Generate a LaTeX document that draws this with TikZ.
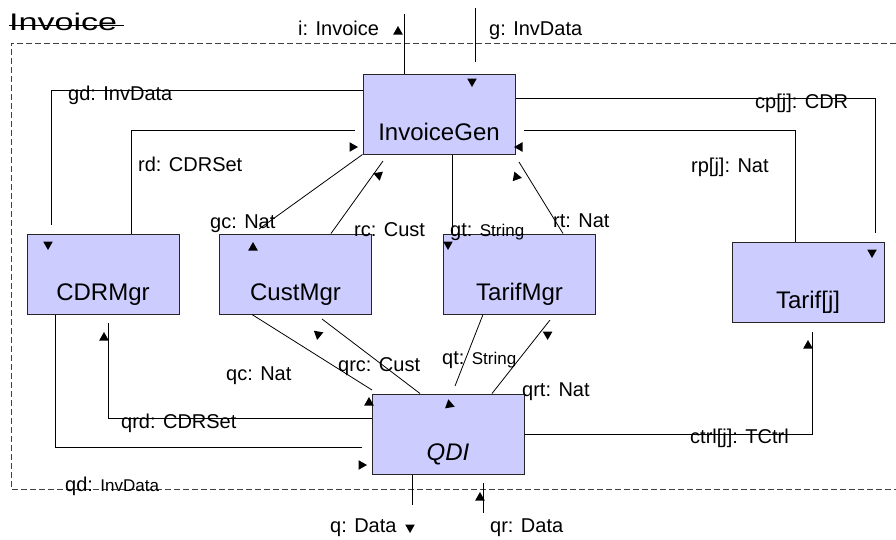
\documentclass[tikz,border=0pt]{standalone}
\usepackage{fontspec}
\setmainfont{Liberation Sans}
\usetikzlibrary{positioning, calc}
\definecolor{modblue}{HTML}{CCCCFF}
\tikzset{
  arrowmark/.pic={\fill (5pt,0) -- (-3.5pt,4.8pt) -- (-3.5pt,-4.8pt) -- cycle;}
}

\begin{document}
\begin{tikzpicture}[
      x=1pt, y=-1pt,
      module/.style={draw=black!85, line width=1pt, fill=modblue,
                     minimum width=152pt, minimum height=80pt, inner sep=0pt,
                     text height=52pt, text depth=0pt,
                     font=\fontsize{24}{28}\selectfont},
      portlbl/.style={inner sep=0pt, anchor=base west,
                      font=\fontsize{20}{24}\selectfont},
      wire/.style={line width=0.8pt},
    ]
    \useasboundingbox (0,0) rectangle (896,539);

    % frame
    \draw[black!75, line width=0.8pt, dash pattern=on 6pt off 3pt]
      (896,43) -- (11,43) -- (11,489) -- (896,489);
    \node[inner sep=0pt, anchor=base west, font=\fontsize{24}{28}\selectfont]
      (title) at (9,30) {\scalebox{1.42}[1]{Invoice}};
    \draw[line width=1pt] ([yshift=5pt]title.base west) -- ([yshift=5pt,xshift=7pt]title.base east);

    % modules
    \node[module] (inv)   at (439,114)   {InvoiceGen};
    \node[module] (cdr)   at (103,274)   {CDRMgr};
    \node[module] (cust)  at (295.5,274) {CustMgr};
    \node[module] (tarm)  at (519.5,274) {TarifMgr};
    \node[module] (tarif) at (808,282)   {Tarif[j]};
    \node[module, font=\fontsize{24}{28}\selectfont\itshape] (qdi) at (448,434) {QDI};

    % free ends
    \coordinate (i-e)    at (404,14);
    \coordinate (g-s)    at (475,8);
    \coordinate (g-e)    at (475,62);
    \coordinate (gd-e)   at (51,225);
    \coordinate (rd-e)   at (355,130);
    \coordinate (cp-e)   at (875,233);
    \coordinate (rp-e)   at (524,130);
    \coordinate (gc-e)   at (259,229);
    \coordinate (rc-e)   at (383,161);
    \coordinate (rt-e)   at (519,162);
    \coordinate (qc-e)   at (372,390);
    \coordinate (qrc-e)  at (322,319);
    \coordinate (qt-e)   at (455,386);
    \coordinate (qrt-e)  at (550,320);
    \coordinate (qrd-e)  at (108,323);
    \coordinate (qd-e)   at (362,447);
    \coordinate (ctrl-e) at (812,332);
    \coordinate (q-e)    at (412,505);
    \coordinate (qr-s)   at (483,483);
    \coordinate (qr-e)   at (483,513);

    % wires
    \draw[wire] (inv.north -| 404,0) -- (i-e);
    \draw[wire] (g-s) -- (g-e);
    \draw[wire] (inv.west |- 0,90) -| (gd-e);
    \draw[wire] (cdr.north -| 131,0) |- (rd-e);
    \draw[wire] (inv.east |- 0,98) -| (cp-e);
    \draw[wire] (tarif.north -| 795,0) |- (rp-e);
    \draw[wire] (inv.south west) -- (gc-e);
    \draw[wire] (cust.north -| 331,0) -- (rc-e);
    \draw[wire] (inv.south -| 452,0) -- (tarm.north -| 452,0);
    \draw[wire] (tarm.north -| 563,0) -- (rt-e);
    \draw[wire] (cust.south -| 252,0) -- (qc-e);
    \draw[wire] (qdi.north -| 420,0) -- (qrc-e);
    \draw[wire] (tarm.south -| 483,0) -- (qt-e);
    \draw[wire] (qdi.north -| 492,0) -- (qrt-e);
    \draw[wire] (qdi.west |- 0,418) -| (qrd-e);
    \draw[wire] (cdr.south -| 55,0) |- (qd-e);
    \draw[wire] (qdi.east) -| (ctrl-e);
    \draw[wire] (qdi.south -| 412,0) -- (q-e);
    \draw[wire] (qr-s) -- (qr-e);

    % arrow marks
    \pic[rotate=90]  at (398,31)  {arrowmark};
    \pic[rotate=-90] at (472,82)  {arrowmark};
    \pic[rotate=-90] at (48,245)  {arrowmark};
    \pic             at (353,147) {arrowmark};
    \pic[rotate=-90] at (872,253) {arrowmark};
    \pic[rotate=180] at (519,147) {arrowmark};
    \pic[rotate=90]  at (253,247) {arrowmark};
    \pic[rotate=160] at (378,175) {arrowmark};
    \pic[rotate=-90] at (448,245) {arrowmark};
    \pic[rotate=-10] at (517,177) {arrowmark};
    \pic[rotate=90]  at (369,402) {arrowmark};
    \pic[rotate=-100] at (318,335) {arrowmark};
    \pic[rotate=-20] at (450,405) {arrowmark};
    \pic[rotate=150] at (547,334) {arrowmark};
    \pic[rotate=90]  at (104,337) {arrowmark};
    \pic             at (362,465) {arrowmark};
    \pic[rotate=90]  at (808,345) {arrowmark};
    \pic[rotate=-90] at (410,528) {arrowmark};
    \pic[rotate=90]  at (480,497) {arrowmark};

    % port labels
    \node[portlbl] (l-i)    at (298,35.7) {i: Invoice};
    \node[portlbl] (l-g)    at (489,35)   {g: InvData};
    \node[portlbl] (l-gd)   at (68,100)   {gd: InvData};
    \node[portlbl] (l-rd)   at (138,171)  {rd: CDRSet};
    \node[portlbl] (l-cp)   at (755,108)  {cp[j]: CDR};
    \node[portlbl] (l-rp)   at (691,172)  {rp[j]: Nat};
    \node[portlbl] (l-gc)   at (210,228)  {gc: Nat};
    \node[portlbl] (l-rc)   at (354,236)  {rc: Cust};
    \node[portlbl] (l-gt)   at (450,236)  {gt: {\fontsize{17}{20}\selectfont String}};
    \node[portlbl] (l-rt)   at (553,227)  {rt: Nat};
    \node[portlbl] (l-qc)   at (226,380)  {qc: Nat};
    \node[portlbl] (l-qrc)  at (338,371)  {qrc: Cust};
    \node[portlbl] (l-qt)   at (442,364)  {qt: {\fontsize{17}{20}\selectfont String}};
    \node[portlbl] (l-qrt)  at (522,396)  {qrt: Nat};
    \node[portlbl] (l-qrd)  at (121,428)  {qrd: CDRSet};
    \node[portlbl] (l-qd)   at (65,491)   {qd: {\fontsize{17}{20}\selectfont InvData}};
    \node[portlbl] (l-ctrl) at (690,443)  {ctrl[j]: TCtrl};
    \node[portlbl] (l-q)    at (330,532)  {q: Data};
    \node[portlbl] (l-qr)   at (490,532)  {qr: Data};
  \end{tikzpicture}
\end{document}
